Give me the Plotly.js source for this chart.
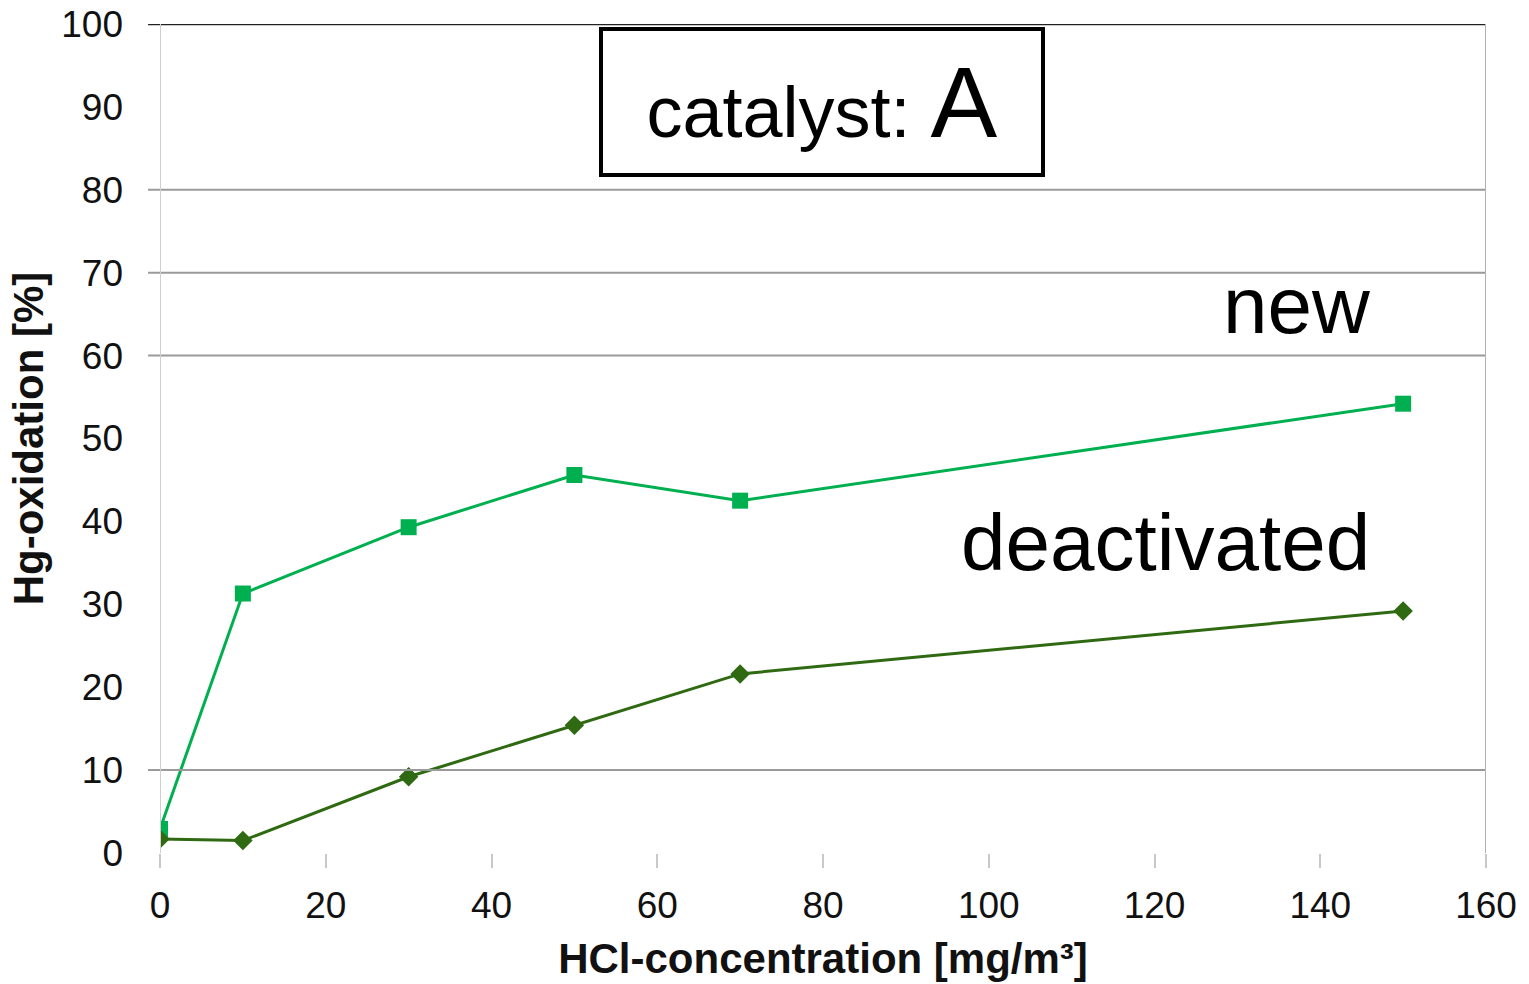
<!DOCTYPE html>
<html>
<head>
<meta charset="utf-8">
<script src="https://cdn.plot.ly/plotly-3.0.1.min.js"></script>
<style>html,body{margin:0;padding:0;background:#fff;}#chart{width:1529px;height:984px;}</style>
</head>
<body>
<div id="chart"></div>
<script>
const hclConc = [0, 10, 30, 50, 70, 150];
const newCatalyst = [2.9, 31.3, 39.3, 45.6, 42.5, 54.2];
const deactivatedCatalyst = [1.7, 1.5, 9.2, 15.4, 21.6, 29.2];
const gridValues = [10, 60, 70, 80];
const xTicks = [0, 20, 40, 60, 80, 100, 120, 140, 160];
const yTicks = [0, 10, 20, 30, 40, 50, 60, 70, 80, 90, 100];

const traces = [
  {x: hclConc, y: newCatalyst, name: 'new', mode: 'lines+markers',
   line: {color: '#00B050', width: 3}, marker: {symbol: 'square', size: 16, color: '#00B050'}},
  {x: hclConc, y: deactivatedCatalyst, name: 'deactivated', mode: 'lines+markers',
   line: {color: '#2F6A12', width: 3}, marker: {symbol: 'diamond', size: 15, color: '#2F6A12'}}
];

const shapes = gridValues.map(v => ({type: 'line', xref: 'paper', yref: 'y', x0: -0.009, x1: 1, y0: v, y1: v,
  line: {color: '#9a9a9a', width: 2}}));
shapes.push({type: 'line', xref: 'paper', yref: 'y', x0: -0.009, x1: 1, y0: 100, y1: 100, line: {color: '#222', width: 2.5}});
shapes.push({type: 'line', xref: 'x', yref: 'y', x0: 0, x1: 0, y0: 0, y1: 100, line: {color: '#cfcfcf', width: 2}});
shapes.push({type: 'line', xref: 'x', yref: 'y', x0: 160, x1: 160, y0: 0, y1: 100, line: {color: '#b0b0b0', width: 2}});

const layout = {
  width: 1529, height: 984,
  margin: {l: 160, r: 43, t: 24, b: 131},
  paper_bgcolor: '#fff', plot_bgcolor: '#fff',
  showlegend: false,
  font: {family: 'Liberation Sans, Arial, sans-serif', color: '#111'},
  xaxis: {range: [0, 160], tickvals: xTicks, ticktext: xTicks.map(String), showgrid: false, zeroline: false,
    showline: false, ticks: 'outside', ticklen: 14, tickwidth: 2, tickcolor: '#c8c8c8',
    tickfont: {size: 37, color: '#111'}, ticklabelstandoff: 6,
    title: {text: '<b>HCl-concentration [mg/m³]</b>', font: {size: 42, color: '#111'}, standoff: 18}},
  yaxis: {range: [0, 100], tickvals: yTicks, ticktext: yTicks.map(String), showgrid: false, zeroline: false,
    showline: false, ticks: '', tickfont: {size: 37, color: '#111'}, ticklabelstandoff: 36,
    title: {text: '<b>Hg-oxidation [%]</b>', font: {size: 42, color: '#111'}, standoff: 4}},
  shapes: shapes,
  annotations: [
    {x: 79.9, y: 90.6, xref: 'x', yref: 'y', showarrow: false,
     text: 'catalyst: <span style="font-size:100px">A</span>', font: {size: 72, color: '#000'},
     bordercolor: '#000', borderwidth: 4, borderpad: 0, bgcolor: '#fff', width: 438, height: 142},
    {x: 137.1, y: 66.1, xref: 'x', yref: 'y', showarrow: false, text: 'new', font: {size: 80, color: '#000'}},
    {x: 121.3, y: 37.4, xref: 'x', yref: 'y', showarrow: false, text: 'deactivated', font: {size: 80, color: '#000'}}
  ]
};

Plotly.newPlot('chart', traces, layout, {displayModeBar: false, staticPlot: true});
</script>
</body>
</html>
